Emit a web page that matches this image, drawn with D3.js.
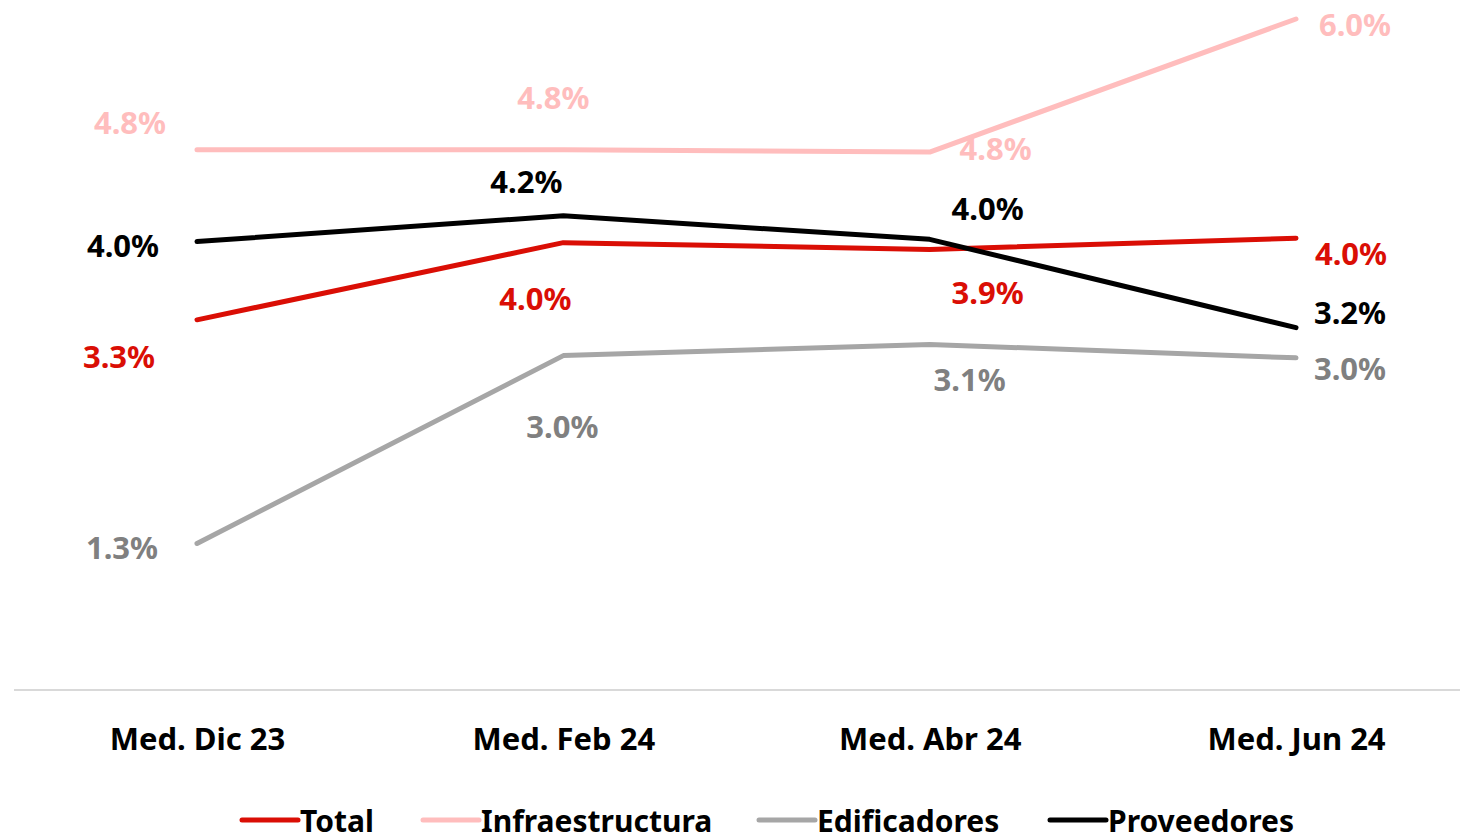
<!DOCTYPE html>
<html>
<head>
<meta charset="utf-8">
<script src="https://cdn.jsdelivr.net/npm/d3@7"></script>
<style>
  body { margin: 0; background: #fff; }
  text { font-family: "Noto Sans", sans-serif; font-weight: bold; }
</style>
</head>
<body>
<svg id="chart" width="1460" height="839"></svg>
<script>
// data
var categories = ["Med. Dic 23", "Med. Feb 24", "Med. Abr 24", "Med. Jun 24"]
var total = [3.31, 4.00, 3.94, 4.04]
var infraestructura = [4.83, 4.83, 4.81, 6.00]
var edificadores = [1.31, 2.99, 3.09, 2.97]
var proveedores = [4.01, 4.24, 4.03, 3.24]

var series = [
	{ name: "Total", values: total, color: "#DA0E05", labelColor: "#DA0E05",
		offs: [[-78, 36], [-28, 55], [58, 43], [55, 15]] },
	{ name: "Infraestructura", values: infraestructura, color: "#FFBDBD", labelColor: "#FFBDBD",
		offs: [[-67, -28], [-10, -53], [66, -4], [59, 5]] },
	{ name: "Edificadores", values: edificadores, color: "#A6A6A6", labelColor: "#808080",
		offs: [[-75, 4], [-1, 70], [40, 35], [54, 10]] },
	{ name: "Proveedores", values: proveedores, color: "#000000", labelColor: "#000000",
		offs: [[-74, 3], [-37, -35], [58, -31], [54, -16]] }
]

var svg = d3.select("#chart")

var x = d3.scalePoint()
	.domain(categories)
	.range([197, 1296])

var y = d3.scaleLinear()
	.domain([0, 6])
	.range([690, 19])

// baseline
svg.append("line")
	.attr("x1", 14).attr("x2", 1460)
	.attr("y1", y(0)).attr("y2", y(0))
	.attr("stroke", "#D9D9D9")
	.attr("stroke-width", 2)

var xAxis = svg.append("g")
	.attr("transform", "translate(0," + y(0) + ")")
	.call(d3.axisBottom(x).tickSize(0).tickPadding(38))
xAxis.select(".domain").remove()
xAxis.selectAll("text")
	.attr("font-size", 31)
	.attr("fill", "#000")
	.style("font-family", null)

var line = d3.line()
	.x((d, i) => x(categories[i]))
	.y(d => y(d))

series.forEach(function(s){
	svg.append("path")
		.attr("d", line(s.values))
		.attr("fill", "none")
		.attr("stroke", s.color)
		.attr("stroke-width", 5)
		.attr("stroke-linecap", "round")
		.attr("stroke-linejoin", "round")
})

series.forEach(function(s){
	svg.append("g").selectAll("text")
		.data(s.values)
		.join("text")
			.attr("x", (d, i) => x(categories[i]) + s.offs[i][0])
			.attr("y", (d, i) => y(d) + s.offs[i][1])
			.attr("text-anchor", "middle")
			.attr("dominant-baseline", "central")
			.attr("font-size", 31)
			.attr("fill", s.labelColor)
			.text(d => d.toFixed(1) + "%")
})

// legend
var legendX = [242, 423, 759, 1050]
var legend = svg.append("g").selectAll("g")
	.data(series)
	.join("g")
		.attr("transform", (d, i) => "translate(" + legendX[i] + ",820)")
legend.append("line")
	.attr("x1", 0).attr("x2", 56)
	.attr("stroke", d => d.color)
	.attr("stroke-width", 5)
	.attr("stroke-linecap", "round")
legend.append("text")
	.attr("x", 58)
	.attr("dominant-baseline", "central")
	.attr("font-size", 30)
	.attr("fill", "#000")
	.text(d => d.name)
</script>
</body>
</html>
